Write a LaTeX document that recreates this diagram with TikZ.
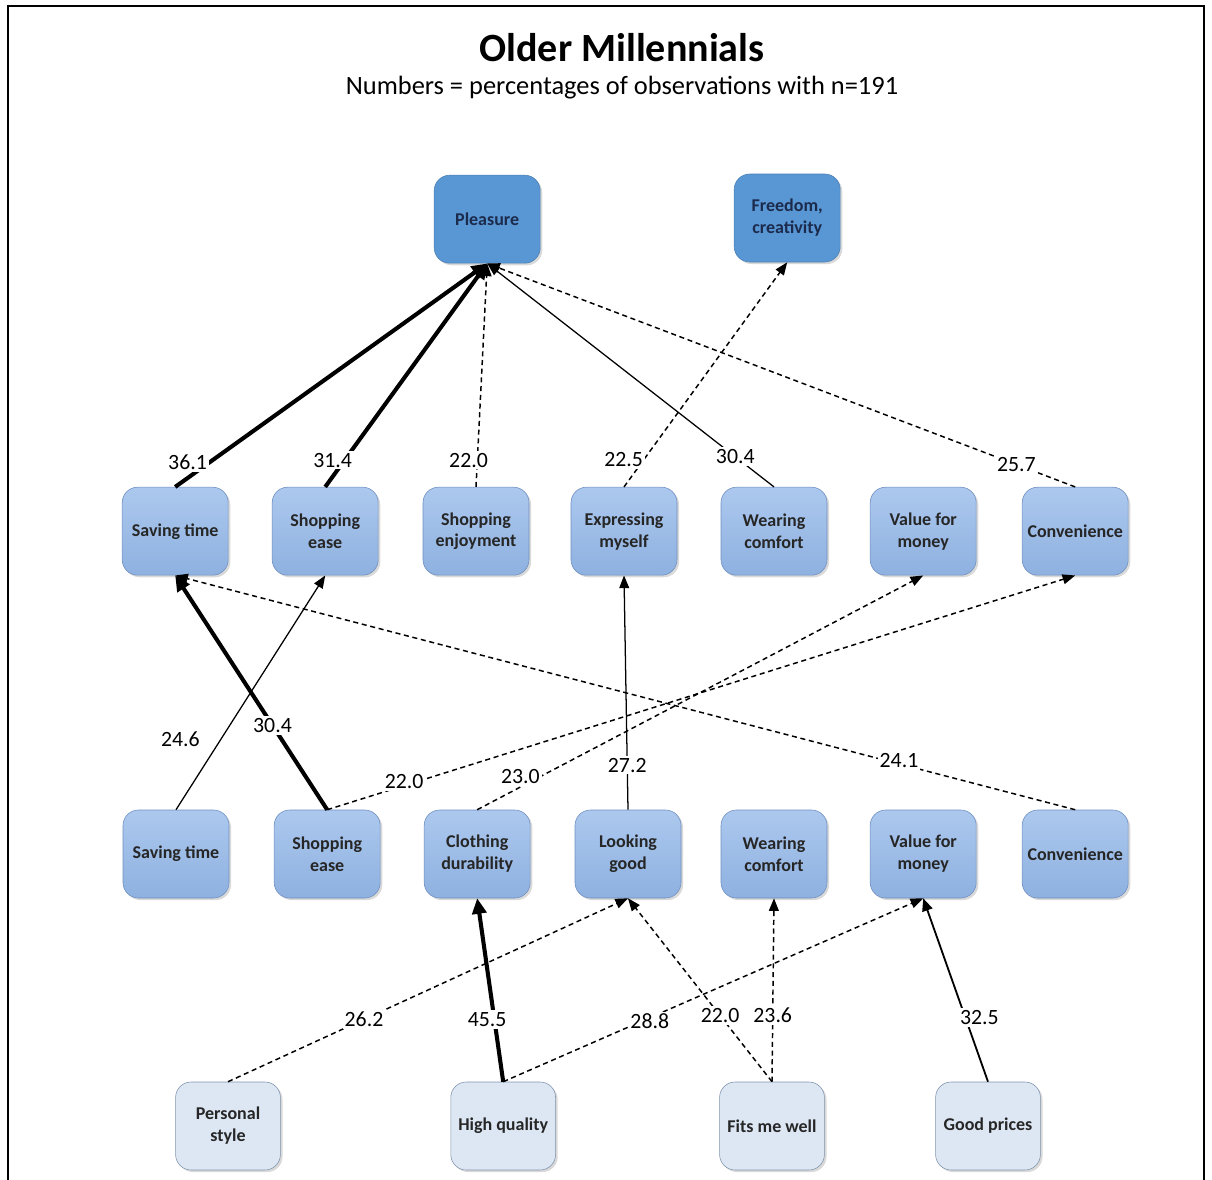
\documentclass[tikz,border=0pt]{standalone}
\usepackage{fontspec}
\setmainfont{Carlito}
\usetikzlibrary{arrows.meta, shadows}

\definecolor{valblue}{HTML}{5896D4}
\definecolor{contop}{HTML}{ACC8EE}
\definecolor{conbot}{HTML}{8EB1E0}
\definecolor{conline}{HTML}{6E8EC0}
\definecolor{atrfill}{HTML}{DDE7F4}
\definecolor{atrline}{HTML}{8093AC}
\definecolor{navy}{HTML}{1C2B4C}

\begin{document}
\begin{tikzpicture}[
		v/.style = {rectangle, rounded corners=11pt, fill=valblue, draw=valblue!85!black, thin, minimum width=2.65cm, minimum height=2.2cm, align=center, text=navy, font=\fontsize{12.8}{15.6}\selectfont\bfseries, drop shadow={opacity=0.3, shadow xshift=1.5pt, shadow yshift=-1.5pt}},
		c/.style = {rectangle, rounded corners=11pt, top color=contop, bottom color=conbot, draw=conline, thin, minimum width=2.65cm, minimum height=2.2cm, align=center, text=black!85, font=\fontsize{12.8}{15.6}\selectfont\bfseries, drop shadow={opacity=0.3, shadow xshift=1.5pt, shadow yshift=-1.5pt}},
		a/.style = {rectangle, rounded corners=11pt, fill=atrfill, draw=atrline, thin, minimum width=2.62cm, minimum height=2.2cm, align=center, text=black!85, font=\fontsize{12.8}{15.6}\selectfont\bfseries, drop shadow={opacity=0.3, shadow xshift=1.5pt, shadow yshift=-1.5pt}},
		h/.style = {-{Triangle[length=11pt, width=10pt]}, line width=2.9pt},
		m/.style = {-{Triangle[length=9pt, width=7.5pt]}, line width=1.3pt},
		t/.style = {-{Triangle[length=9pt, width=7pt]}, line width=0.9pt},
		d/.style = {-{Triangle[length=9pt, width=7pt]}, line width=1.05pt, dash pattern=on 3.6pt off 2.6pt},
		n/.style = {fill=white, inner sep=1.5pt, font=\fontsize{15.5}{18}\selectfont}
		]
		
		\useasboundingbox (0, 0) rectangle (30.3, -29.5);
		\draw[line width=1.4pt]	(0.2, -29.5)	|-	(30.1, -0.14)	--	(30.1, -29.5);
		
		\node (title)	at	(15.55, -1.18)	{\fontsize{28.5}{34}\selectfont\bfseries Older Millennials};
		\node (sub)		at	(15.55, -2.2)	{\fontsize{18.8}{22}\selectfont Numbers = percentages of observations with n=191};
		
		\node[v]	(v1)	at	(12.18, -5.48)	{Pleasure};
		\node[v]	(v2)	at	(19.68, -5.45)	{Freedom,\\creativity};
		
		\node[c]	(c1)	at	(4.38, -13.28)	{Saving time};
		\node[c]	(c2)	at	(8.13, -13.28)	{Shopping\\ease};
		\node[c]	(c3)	at	(11.9, -13.28)	{Shopping\\enjoyment};
		\node[c]	(c4)	at	(15.6, -13.28)	{Expressing\\myself};
		\node[c]	(c5)	at	(19.35, -13.28)	{Wearing\\comfort};
		\node[c]	(c6)	at	(23.08, -13.28)	{Value for\\money};
		\node[c]	(c7)	at	(26.88, -13.28)	{Convenience};
		
		\node[c]	(d1)	at	(4.4, -21.35)	{Saving time};
		\node[c]	(d2)	at	(8.18, -21.35)	{Shopping\\ease};
		\node[c]	(d3)	at	(11.93, -21.35)	{Clothing\\durability};
		\node[c]	(d4)	at	(15.7, -21.35)	{Looking\\good};
		\node[c]	(d5)	at	(19.35, -21.35)	{Wearing\\comfort};
		\node[c]	(d6)	at	(23.08, -21.35)	{Value for\\money};
		\node[c]	(d7)	at	(26.88, -21.35)	{Convenience};
		
		\node[a]	(a1)	at	(5.7, -28.15)	{Personal\\style};
		\node[a]	(a2)	at	(12.58, -28.15)	{High quality};
		\node[a]	(a3)	at	(19.3, -28.15)	{Fits me well};
		\node[a]	(a4)	at	(24.7, -28.15)	{Good prices};
		
		\draw[h]	(c1.north)	--	node[n, pos=0.11, xshift=-0.55cm]	{36.1}	(v1.south);
		\draw[h]	(c2.north)	--	node[n, pos=0.12, xshift=-0.3cm]	{31.4}	(v1.south);
		\draw[d]	(c3.north)	--	node[n, pos=0.12, xshift=-0.22cm]	{22.0}	(v1.south);
		\draw[d]	(c4.north)	--	node[n, pos=0.12, xshift=-0.5cm]	{22.5}	(v2.south);
		\draw[t]	(c5.north)	--	node[n, pos=0.135]	{30.4}	(v1.south);
		\draw[d]	(c7.north)	--	node[n, pos=0.1]	{25.7}	(v1.south);
		
		\draw[t]	(d1.north)	--	node[n, pos=0.3, left=13pt]	{24.6}	(c2.south);
		\draw[h]	(d2.north)	--	node[n, pos=0.36]	{30.4}	(c1.south);
		\draw[d]	(d2.north)	--	node[n, pos=0.12, xshift=-0.32cm]	{22.0}	(c7.south);
		\draw[d]	(d3.north)	--	node[n, pos=0.14, xshift=-0.48cm]	{23.0}	(c6.south);
		\draw[t]	(d4.north)	--	node[n, pos=0.19]	{27.2}	(c4.south);
		\draw[d]	(d7.north)	--	node[n, pos=0.21, xshift=0.32cm]	{24.1}	(c1.south);
		
		\draw[d]	(a1.north)	--	node[n, pos=0.34]	{26.2}	(d4.south);
		\draw[h]	(a2.north)	--	node[n, pos=0.34, xshift=-0.18cm]	{45.5}	(d3.south);
		\draw[d]	(a2.north)	--	node[n, pos=0.33, xshift=0.2cm]	{28.8}	(d6.south);
		\draw[d]	(a3.north)	--	node[n, pos=0.36]	{22.0}	(d4.south);
		\draw[d]	(a3.north)	--	node[n, pos=0.36]	{23.6}	(d5.south);
		\draw[m]	(a4.north)	--	node[n, pos=0.35, xshift=0.35cm]	{32.5}	(d6.south);
\end{tikzpicture}
\end{document}
